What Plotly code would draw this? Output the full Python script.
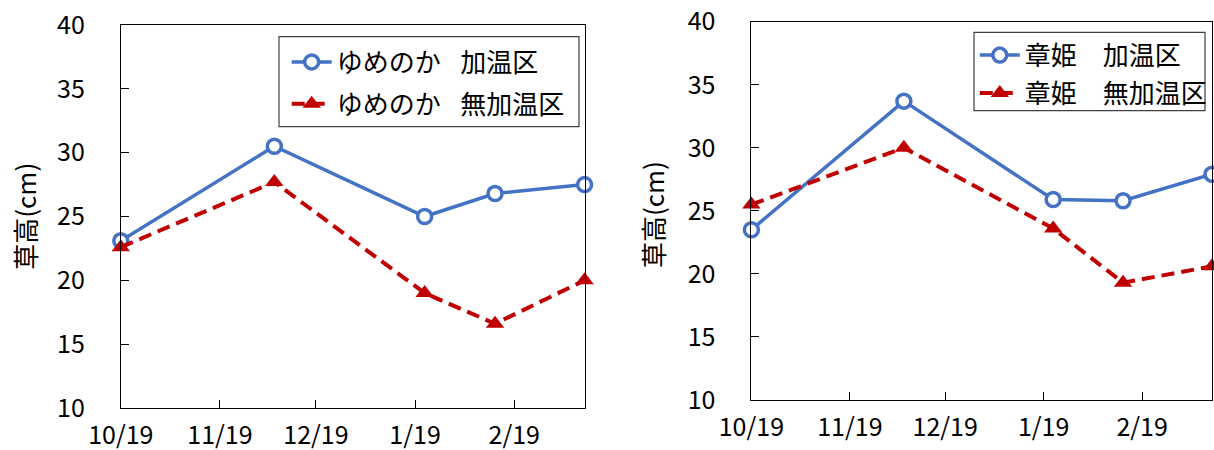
import plotly.graph_objects as go

# ---- data ----
dates = ["2014-10-19", "2014-12-06", "2015-01-22", "2015-02-13", "2015-03-13"]
yumenoka_heated = [23.1, 30.5, 25.0, 26.8, 27.5]
yumenoka_unheated = [22.6, 27.7, 19.0, 16.6, 20.0]
akihime_heated = [23.5, 33.7, 25.9, 25.8, 27.9]
akihime_unheated = [25.5, 30.0, 23.6, 19.3, 20.6]
names_left = ["ゆめのか\u2002\u2005加温区", "ゆめのか\u2002\u2005無加温区"]
names_right = ["章姫\u3000加温区", "章姫\u3000無加温区"]
y_title = "草高(cm)"
x_range = ["2014-10-19", "2015-03-13"]

FONT = "Noto Sans CJK JP"
BLUE = "#4472C4"
RED = "#C00000"

fig = go.Figure()


def add_pair(heated, unheated, names, xa, ya, leg):
    fig.add_trace(go.Scatter(
        x=dates, y=heated, name=names[0], mode="lines+markers",
        line=dict(color=BLUE, width=3.5),
        marker=dict(symbol="circle", size=14, color="white",
                    line=dict(color=BLUE, width=3.5)),
        xaxis=xa, yaxis=ya, legend=leg, legendgroup=leg + "a",
        cliponaxis=False))
    fig.add_trace(go.Scatter(
        x=dates, y=unheated, name=names[1], mode="lines+markers",
        line=dict(color=RED, width=4, dash="13px,7px"),
        marker=dict(symbol="triangle-up", size=16, color=RED,
                    line=dict(color=RED, width=0)),
        xaxis=xa, yaxis=ya, legend=leg, legendgroup=leg + "b",
        cliponaxis=False))


add_pair(yumenoka_heated, yumenoka_unheated, names_left, "x", "y", "legend")
add_pair(akihime_heated, akihime_unheated, names_right, "x2", "y2", "legend2")

xcommon = dict(
    type="date", range=x_range, tick0=x_range[0], dtick="M1",
    tickformat="%-m/%d", ticks="inside", ticklen=8, tickcolor="black",
    showline=True, linecolor="black", linewidth=1, mirror=True,
    showgrid=False, zeroline=False, automargin=False,
    tickfont=dict(family=FONT, size=25, color="black"),
    ticklabelstandoff=5,
)
ycommon = dict(
    range=[10, 40], dtick=5, tick0=10, ticks="inside", ticklen=8,
    tickcolor="black", showline=True, linecolor="black", linewidth=1,
    mirror=True, showgrid=False, zeroline=False, automargin=False,
    tickfont=dict(family=FONT, size=25, color="black"),
    ticklabelstandoff=30,
)

W, H = 1214, 450

fig.update_layout(
    width=W, height=H,
    margin=dict(l=0, r=0, t=0, b=0),
    paper_bgcolor="white", plot_bgcolor="white",
    font=dict(family=FONT, color="black"),
    xaxis=dict(domain=[120.8 / W, 584.6 / W], anchor="y", **xcommon),
    yaxis=dict(domain=[(H - 408) / H, (H - 25) / H], anchor="x", **ycommon),
    xaxis2=dict(domain=[751.4 / W, 1212 / W], anchor="y2", **xcommon),
    yaxis2=dict(domain=[(H - 400) / H, (H - 21.7) / H], anchor="x2", **ycommon),
    legend=dict(x=(336.7 - 50) / W, y=1 - 38.5 / H, xanchor="left", yanchor="top",
                bgcolor="rgba(0,0,0,0)", borderwidth=0, traceorder="grouped",
                itemwidth=40,
                tracegroupgap=5, font=dict(family=FONT, size=26, color="black")),
    legend2=dict(x=0.999, y=1 - 31.7 / H, xanchor="right", yanchor="top",
                 bgcolor="rgba(0,0,0,0)", borderwidth=0, traceorder="grouped",
                 itemwidth=40,
                 tracegroupgap=1, font=dict(family=FONT, size=26, color="black")),
    showlegend=True,
    shapes=[
        dict(type="rect", xref="paper", yref="paper",
             x0=279 / W, x1=579 / W, y0=1 - 126.7 / H, y1=1 - 36.7 / H,
             line=dict(color="#404040", width=1.2), fillcolor="white", layer="below"),
        dict(type="rect", xref="paper", yref="paper",
             x0=974 / W, x1=1205 / W, y0=1 - 110.7 / H, y1=1 - 32.3 / H,
             line=dict(color="#404040", width=1.2), fillcolor="white", layer="below"),
    ],
    annotations=[
        dict(text=y_title, xref="paper", yref="paper", x=25 / W, y=1 - 215.7 / H,
             textangle=-90, showarrow=False, xanchor="center", yanchor="middle",
             font=dict(family=FONT, size=26, color="black")),
        dict(text=y_title, xref="paper", yref="paper", x=652.5 / W, y=1 - 214.6 / H,
             textangle=-90, showarrow=False, xanchor="center", yanchor="middle",
             font=dict(family=FONT, size=26, color="black")),
    ],
)

fig.write_html("out.html")
